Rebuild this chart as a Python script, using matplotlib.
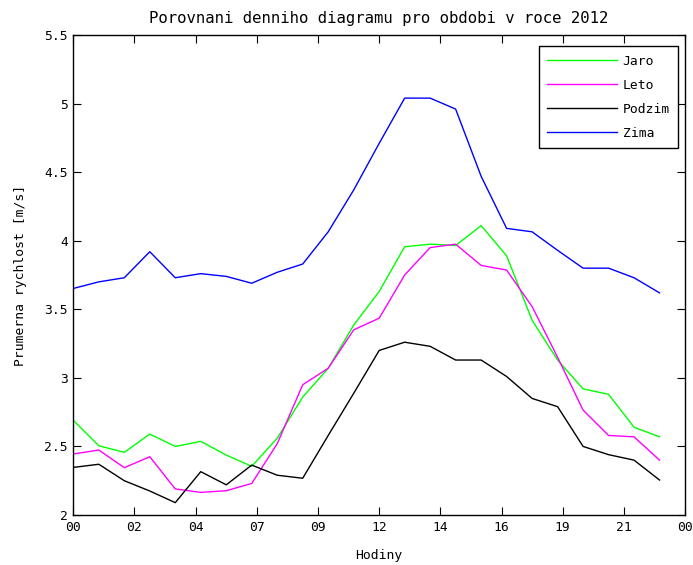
import numpy as np
import matplotlib.pyplot as plt
from matplotlib.ticker import FixedLocator, FixedFormatter

# hodinove prumery rychlosti vetru [m/s], hodiny 0..23
hodiny = np.arange(24)

jaro = [2.69, 2.505, 2.457, 2.59, 2.50, 2.537, 2.437, 2.355, 2.56, 2.86, 3.07, 3.385,
        3.63, 3.956, 3.975, 3.965, 4.11, 3.89, 3.42, 3.13, 2.92, 2.88, 2.64, 2.57]
leto = [2.445, 2.474, 2.345, 2.425, 2.19, 2.165, 2.177, 2.23, 2.52, 2.95, 3.07, 3.35,
        3.435, 3.75, 3.95, 3.975, 3.82, 3.786, 3.52, 3.15, 2.765, 2.58, 2.57, 2.40]
podzim = [2.347, 2.37, 2.25, 2.175, 2.09, 2.316, 2.22, 2.364, 2.29, 2.268, 2.58, 2.887,
          3.2, 3.26, 3.23, 3.13, 3.13, 3.01, 2.85, 2.79, 2.50, 2.44, 2.40, 2.255]
zima = [3.652, 3.70, 3.73, 3.92, 3.73, 3.76, 3.74, 3.69, 3.77, 3.83, 4.065, 4.37,
        4.71, 5.04, 5.04, 4.96, 4.47, 4.09, 4.065, 3.93, 3.80, 3.80, 3.73, 3.62]

serie = [('Jaro', jaro, '#00ff00'), ('Leto', leto, '#ff00ff'),
         ('Podzim', podzim, 'black'), ('Zima', zima, 'blue')]

# datetick styl: 11 rovnomernych ticku pres 24 hodin
xtick_pos = np.linspace(0, 24, 11)
xtick_lab = ['00', '02', '04', '07', '09', '12', '14', '16', '19', '21', '00']
ytick_pos = [2, 2.5, 3, 3.5, 4, 4.5, 5, 5.5]
ytick_lab = ['2', '2.5', '3', '3.5', '4', '4.5', '5', '5.5']

plt.rcParams['font.family'] = ['DejaVu Sans Mono']
plt.rcParams['font.size'] = 9.4

fig = plt.figure(figsize=(6.93, 5.65), dpi=100)
ax = fig.add_axes([0.1058, 0.0885, 0.8827, 0.8495])

for nazev, hodnoty, barva in serie:
    ax.plot(hodiny, hodnoty, color=barva, linewidth=1.0, label=nazev)

ax.set_xlim(0, 24)
ax.set_ylim(2, 5.5)
ax.xaxis.set_major_locator(FixedLocator(xtick_pos))
ax.xaxis.set_major_formatter(FixedFormatter(xtick_lab))
ax.yaxis.set_major_locator(FixedLocator(ytick_pos))
ax.yaxis.set_major_formatter(FixedFormatter(ytick_lab))
ax.tick_params(direction='in', length=6, width=0.8, top=True, right=True, pad=4)
for s in ax.spines.values():
    s.set_linewidth(1.0)

ax.set_title('Porovnani denniho diagramu pro obdobi v roce 2012', pad=9)
ax.set_xlabel('Hodiny', labelpad=11)
ax.set_ylabel('Prumerna rychlost [m/s]', labelpad=12)

leg = ax.legend(loc='upper right', bbox_to_anchor=(0.989, 0.977), borderaxespad=0,
                fancybox=False, edgecolor='black', framealpha=1, handlelength=5.3,
                handletextpad=0.45, labelspacing=0.85, borderpad=0.65)
leg.get_frame().set_linewidth(1.0)

fig.savefig('out.png', dpi=100)
